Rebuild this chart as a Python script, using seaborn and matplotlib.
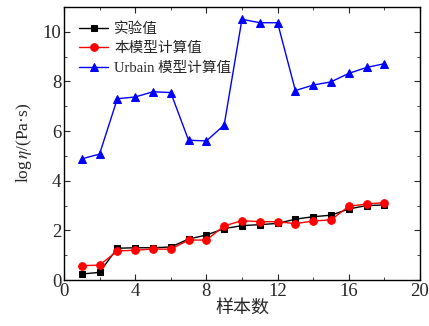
import numpy as np
import pandas as pd
import matplotlib
matplotlib.use("Agg")
import matplotlib.pyplot as plt
import seaborn as sns
from matplotlib.ticker import MultipleLocator

samples = list(range(1, 19))
exp_vals = [0.24, 0.31, 1.28, 1.30, 1.30, 1.33, 1.65, 1.81, 2.07, 2.19, 2.23, 2.28,
            2.45, 2.55, 2.61, 2.86, 3.00, 3.02]
model_vals = [0.58, 0.60, 1.17, 1.20, 1.25, 1.24, 1.61, 1.61, 2.18, 2.39, 2.35, 2.35,
              2.27, 2.38, 2.42, 2.97, 3.06, 3.12]
urbain_vals = [4.88, 5.07, 7.30, 7.37, 7.58, 7.55, 5.63, 5.60, 6.24, 10.50, 10.36, 10.36,
               7.63, 7.85, 7.98, 8.32, 8.56, 8.71]
labels = ["实验值", "本模型计算值", "Urbain 模型计算值"]

sns.set_style("ticks")
plt.rcParams["font.family"] = ["Liberation Serif", "Noto Sans CJK SC"]
plt.rcParams["mathtext.fontset"] = "stix"

fig = plt.figure(figsize=(4.29, 3.26), dpi=100)
ax = fig.add_axes([0.149, 0.141, 0.830, 0.838])

series = [
    (exp_vals, "black", "s", 5.0),
    (model_vals, "red", "o", 5.5),
    (urbain_vals, "blue", "^", 5.5),
]
for (vals, color, marker, ms), lab in zip(series, labels):
    sns.lineplot(x=samples, y=vals, ax=ax, color=color, marker=marker,
                 markersize=ms, markeredgecolor=color, linewidth=1.0, label=lab)

ax.set_xlim(0, 20)
ax.set_ylim(0, 11)
ax.xaxis.set_major_locator(MultipleLocator(4))
ax.xaxis.set_minor_locator(MultipleLocator(2))
ax.yaxis.set_major_locator(MultipleLocator(2))
ax.yaxis.set_minor_locator(MultipleLocator(1))
ax.tick_params(which="both", direction="in", top=True, right=True, labelsize=13.5)
ax.tick_params(which="major", length=4, pad=2)
ax.tick_params(which="minor", length=2.5)
for s in ax.spines.values():
    s.set_linewidth(1.0)
    s.set_color("black")

ax.set_xlabel("样本数", fontsize=13, labelpad=0)
ax.set_ylabel(r"log$\,\mathit{\eta}$/(Pa·s)", fontsize=12.5, labelpad=6)

leg = ax.legend(loc="upper left", frameon=False, fontsize=10.5, handlelength=2.0,
                handletextpad=0.4, labelspacing=0.42, borderaxespad=0.6,
                borderpad=0.45)

fig.savefig("out.png", dpi=100)
